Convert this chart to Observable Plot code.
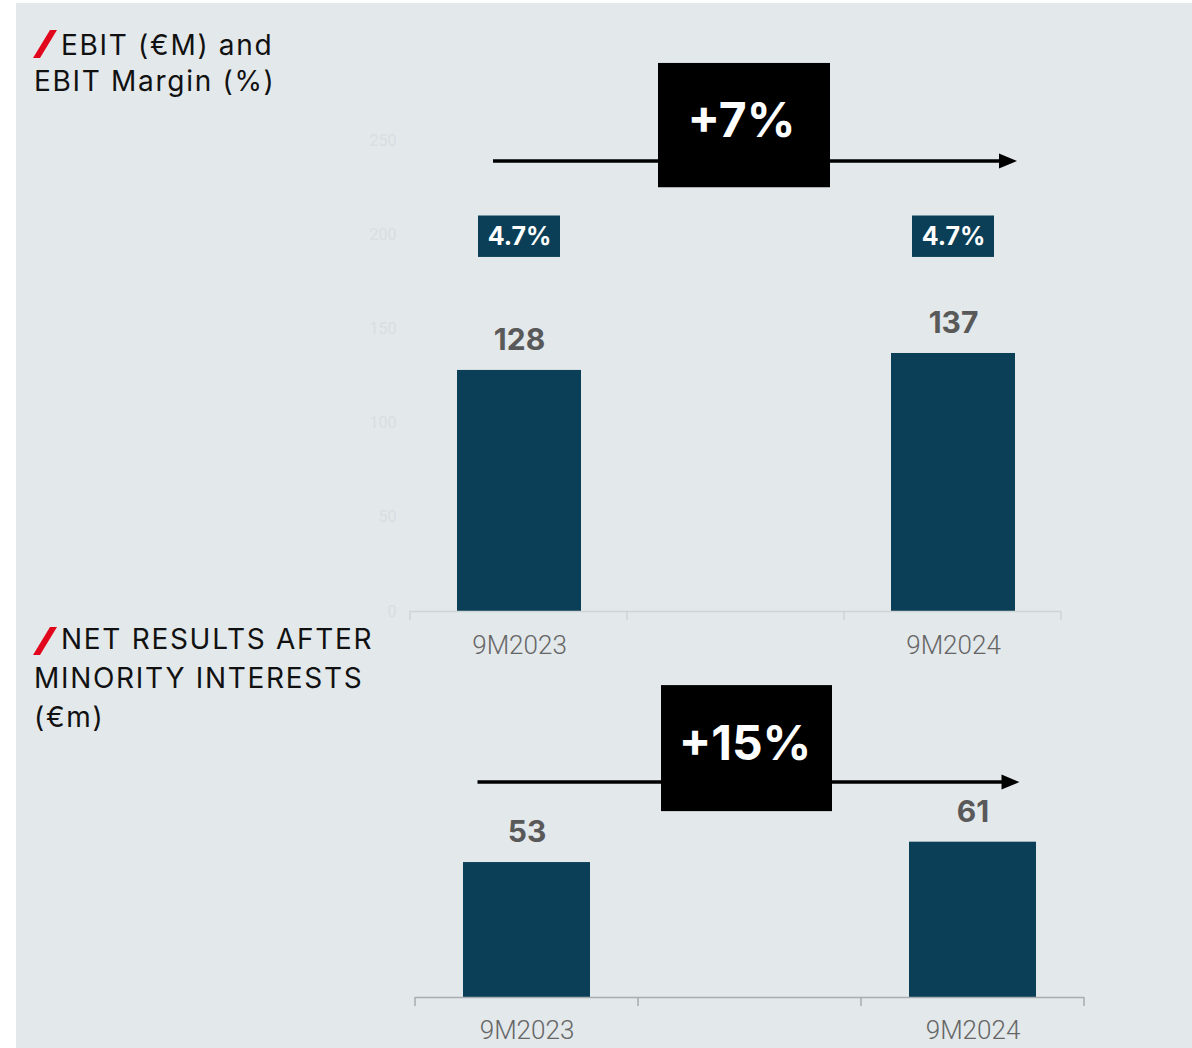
<!DOCTYPE html>
<html>
<head>
<meta charset="utf-8">
<script src="https://cdn.jsdelivr.net/npm/d3@7"></script>
<script src="https://cdn.jsdelivr.net/npm/@observablehq/plot@0.6"></script>
<style>
  html, body { margin: 0; padding: 0; background: #ffffff; width: 1192px; height: 1048px; overflow: hidden; }
  #panel { position: absolute; left: 16px; top: 3px; width: 1176px; height: 1045px; background: #e3e8eb; }
  .title { position: absolute; font-family: Inter, "Noto Sans", sans-serif; font-size: 28px; letter-spacing: 1.7px; color: #111; white-space: nowrap; }
  .slash { position: absolute; }
  #top, #bottom { position: absolute; left: 0; }
  #top { top: 0; }
  #bottom { top: 660px; }
</style>
</head>
<body>
<div id="panel"></div>
<svg class="slash" style="left:33px;top:30px" width="24" height="28"><polygon points="17,0 24,0 7,28 0,28" fill="#e1061b"/></svg>
<div class="title" style="left:34px;top:27px;line-height:36px;text-indent:27px">EBIT (€M) and<br>EBIT Margin (%)</div>
<svg class="slash" style="left:33px;top:627px" width="24" height="28"><polygon points="17,0 24,0 7,28 0,28" fill="#e1061b"/></svg>
<div class="title" style="left:34px;top:620px;line-height:39px;text-indent:27px">NET RESULTS AFTER<br>MINORITY INTERESTS<br>(€m)</div>
<div id="top"></div>
<div id="bottom"></div>
<script>
// ---- data ----
const periods = ["9M2023", "", "9M2024"];          // axis categories (middle slot is empty)
const ebitPeriods = ["9M2023", "9M2024"];
const ebitValues = [128, 137];
const ebitMargins = [4.7, 4.7];
const ebitChange = "+7%";
const ebitTicks = [0, 50, 100, 150, 200, 250];
const netPeriods = ["9M2023", "9M2024"];
const netValues = [53, 61];
const netChange = "+15%";

// ---- styling ----
const barColor = "#0a3f57";
const labelColor = "#595959";
const boldFont = "Inter, 'Noto Sans', sans-serif";
const axisFont = "Roboto, 'Noto Sans', sans-serif";

const ebit = ebitPeriods.map((p, i) => ({period: p, value: ebitValues[i], margin: ebitMargins[i]}));
const net = netPeriods.map((p, i) => ({period: p, value: netValues[i]}));

function boundaryTicks(color) {
  return (index, scales, values, dimensions) => {
    const {width, marginLeft, marginRight} = dimensions;
    const n = periods.length;
    const step = (width - marginLeft - marginRight) / n;
    const y0 = scales.y(0);
    const g = d3.create("svg:g").attr("stroke", color).attr("stroke-width", 1.5);
    for (let i = 0; i <= n; i++) {
      const x = marginLeft + i * step;
      g.append("line").attr("x1", x).attr("x2", x).attr("y1", y0).attr("y2", y0 + 9);
    }
    return g.node();
  };
}

function growthArrow(from, to, level, extendStart, extendEnd) {
  return (index, scales) => {
    const bw = typeof scales.x.bandwidth === "function" ? scales.x.bandwidth() : 0;
    const xa = scales.x(from) + bw / 2 - extendStart;
    const xb = scales.x(to) + bw / 2 + extendEnd;
    const y = scales.y(level);
    const g = d3.create("svg:g");
    g.append("line").attr("x1", xa).attr("x2", xb - 10).attr("y1", y).attr("y2", y)
      .attr("stroke", "#000").attr("stroke-width", 3.5);
    g.append("path").attr("d", `M${xb},${y}L${xb - 18},${y - 7.5}L${xb - 18},${y + 7.5}Z`).attr("fill", "#000");
    return g.node();
  };
}

const topPlot = Plot.plot({
  width: 1192, height: 660,
  marginLeft: 410, marginRight: 131, marginTop: 46, marginBottom: 49,
  style: {background: "transparent", overflow: "visible"},
  x: {type: "band", domain: periods, paddingInner: 0.43, paddingOuter: 0.215, label: null},
  y: {domain: [0, 300], label: null},
  marks: [
    Plot.axisY({ticks: ebitTicks, tickSize: 0, tickPadding: 14, fontSize: 16, color: "#d9dee2", fontFamily: axisFont, label: null}),
    Plot.axisX({tickSize: 0, tickPadding: 24, fontSize: 26, fontWeight: 300, color: "#666", fontFamily: axisFont, label: null}),
    Plot.barY(ebit, {x: "period", y: "value", fill: barColor}),
    Plot.ruleY([0], {stroke: "#cfd4d7", strokeWidth: 1.5}),
    boundaryTicks("#cfd4d7"),
    Plot.text(ebit, {x: "period", y: "value", text: d => String(d.value), dy: -30, fontSize: 30, fontWeight: 700, fill: labelColor, fontFamily: boldFont}),
    Plot.barY(ebit, {x: "period", y1: 188, y2: 210, insetLeft: 21, insetRight: 21, fill: barColor}),
    Plot.text(ebit, {x: "period", y: 199, text: d => d.margin.toFixed(1) + "%", fontSize: 25, fontWeight: 700, fill: "#fff", fontFamily: boldFont}),
    growthArrow(ebitPeriods[0], ebitPeriods[1], 239, 26, 64),
    Plot.barY([{period: periods[1]}], {x: "period", y1: 225, y2: 291, insetLeft: -24, insetRight: -24, dx: 8, fill: "#000"}),
    Plot.text([{period: periods[1], label: ebitChange}], {x: "period", y: 258, text: "label", dx: 5, dy: -4, fontSize: 48, fontWeight: 700, fill: "#fff", fontFamily: boldFont})
  ]
});
document.getElementById("top").append(topPlot);

const bottomPlot = Plot.plot({
  width: 1192, height: 388,
  marginLeft: 415, marginRight: 108, marginTop: 6, marginBottom: 51,
  style: {background: "transparent", overflow: "visible"},
  x: {type: "band", domain: periods, paddingInner: 0.43, paddingOuter: 0.215, label: null},
  y: {domain: [0, 130], label: null, axis: null},
  marks: [
    Plot.axisX({tickSize: 0, tickPadding: 23, fontSize: 26, fontWeight: 300, color: "#666", fontFamily: axisFont, label: null}),
    Plot.barY(net, {x: "period", y: "value", fill: barColor}),
    Plot.ruleY([0], {stroke: "#a9adb0", strokeWidth: 1.5}),
    boundaryTicks("#a9adb0"),
    Plot.text(net, {x: "period", y: "value", text: d => String(d.value), dy: -30, fontSize: 30, fontWeight: 700, fill: labelColor, fontFamily: boldFont}),
    growthArrow(netPeriods[0], netPeriods[1], 84.4, 49, 47),
    Plot.barY([{period: periods[1]}], {x: "period", y1: 73, y2: 122.5, insetLeft: -22, insetRight: -22, dx: -3, fill: "#000"}),
    Plot.text([{period: periods[1], label: netChange}], {x: "period", y: 97.75, text: "label", dx: -5, dy: -4, fontSize: 48, fontWeight: 700, fill: "#fff", fontFamily: boldFont})
  ]
});
document.getElementById("bottom").append(bottomPlot);
</script>
</body>
</html>
